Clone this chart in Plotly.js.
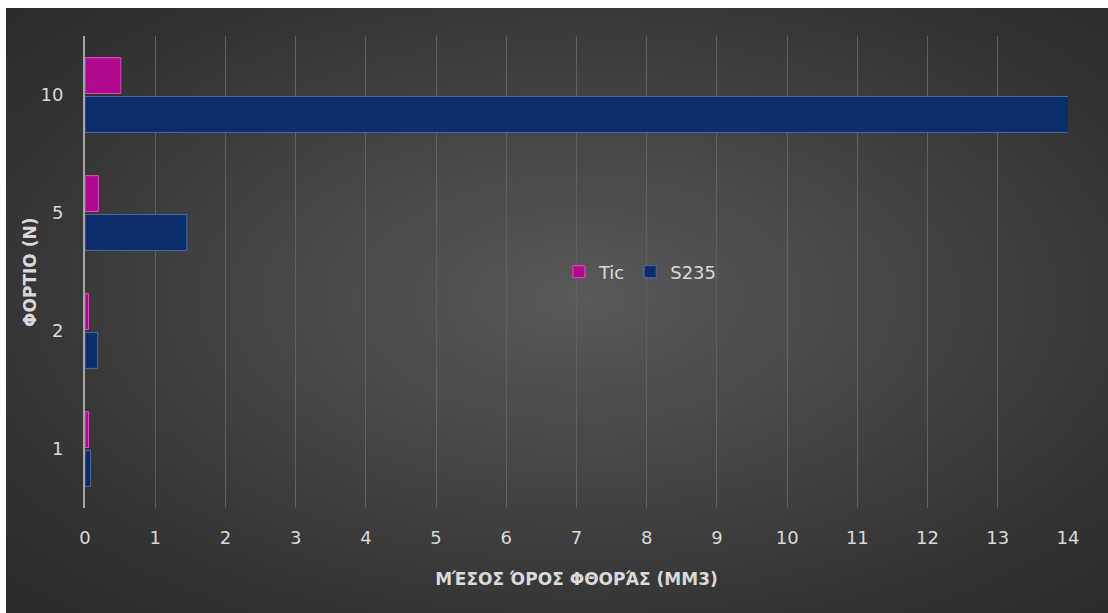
<!DOCTYPE html>
<html>
<head>
<meta charset="utf-8">
<script src="https://cdn.plot.ly/plotly-3.0.1.min.js"></script>
<style>
  html, body { margin: 0; padding: 0; background: #ffffff; width: 1108px; height: 613px; overflow: hidden; }
  #chart {
    position: absolute; left: 6px; top: 8px; width: 1102px; height: 605px;
    background: radial-gradient(ellipse at 52% 48%, #5a5a5a 0%, #474747 35%, #333333 75%, #2b2b2b 100%);
  }
</style>
</head>
<body>
<div id="chart"></div>
<script>
const categories = ["1", "2", "5", "10"];
const ticValues = [0.05, 0.05, 0.19, 0.51];
const s235Values = [0.08, 0.18, 1.45, 14.02];
const xTicks = [0,1,2,3,4,5,6,7,8,9,10,11,12,13,14];

const traces = [
  {
    type: "bar", orientation: "h", name: "S235",
    y: categories, x: s235Values,
    marker: { color: "#0b2d6b", line: { color: "#4a6aa3", width: 1 } },
    hoverinfo: "x+name"
  },
  {
    type: "bar", orientation: "h", name: "Tic",
    y: categories, x: ticValues,
    marker: { color: "#b0088e", line: { color: "#e04cc0", width: 1 } },
    hoverinfo: "x+name"
  }
];

const fam = "'DejaVu Sans', 'Noto Sans', sans-serif";

const layout = {
  width: 1102, height: 605,
  margin: { l: 79, r: 40, t: 28, b: 105 },
  paper_bgcolor: "rgba(0,0,0,0)",
  plot_bgcolor: "rgba(0,0,0,0)",
  barmode: "group",
  bargap: 0.34,
  bargroupgap: 0.08,
  showlegend: true,
  legend: {
    orientation: "h", traceorder: "reversed",
    x: 0.565, y: 0.5, xanchor: "center", yanchor: "middle",
    bgcolor: "rgba(0,0,0,0)",
    font: { family: fam, color: "#d9d9d9", size: 18 },
    itemwidth: 30
  },
  xaxis: {
    range: [0, 14], tickvals: xTicks, ticktext: xTicks.map(String),
    showgrid: true, gridcolor: "#606060", gridwidth: 1,
    zeroline: false, showline: false, ticks: "",
    tickfont: { family: fam, color: "#d9d9d9", size: 18 },
    ticklabelstandoff: 17,
    title: { text: "ΜΈΣΟΣ ΌΡΟΣ ΦΘΟΡΆΣ (MM3)", font: { family: fam, color: "#d9d9d9", size: 17, weight: "bold" }, standoff: 26 }
  },
  yaxis: {
    type: "category", categoryorder: "array", categoryarray: categories,
    showgrid: false, showline: true, linecolor: "#a6a6a6", linewidth: 2,
    ticks: "", zeroline: false,
    tickfont: { family: fam, color: "#d9d9d9", size: 18 },
    ticklabelstandoff: 16
  },
  annotations: [{
    text: "<b>ΦΟΡΤΙΟ (Ν)</b>", textangle: -90,
    xref: "paper", yref: "paper", x: -0.056, y: 0.5,
    xanchor: "center", yanchor: "middle", showarrow: false,
    font: { family: fam, color: "#d9d9d9", size: 17 }
  }]
};

Plotly.newPlot("chart", traces, layout, { displayModeBar: false, responsive: false });
</script>
</body>
</html>
